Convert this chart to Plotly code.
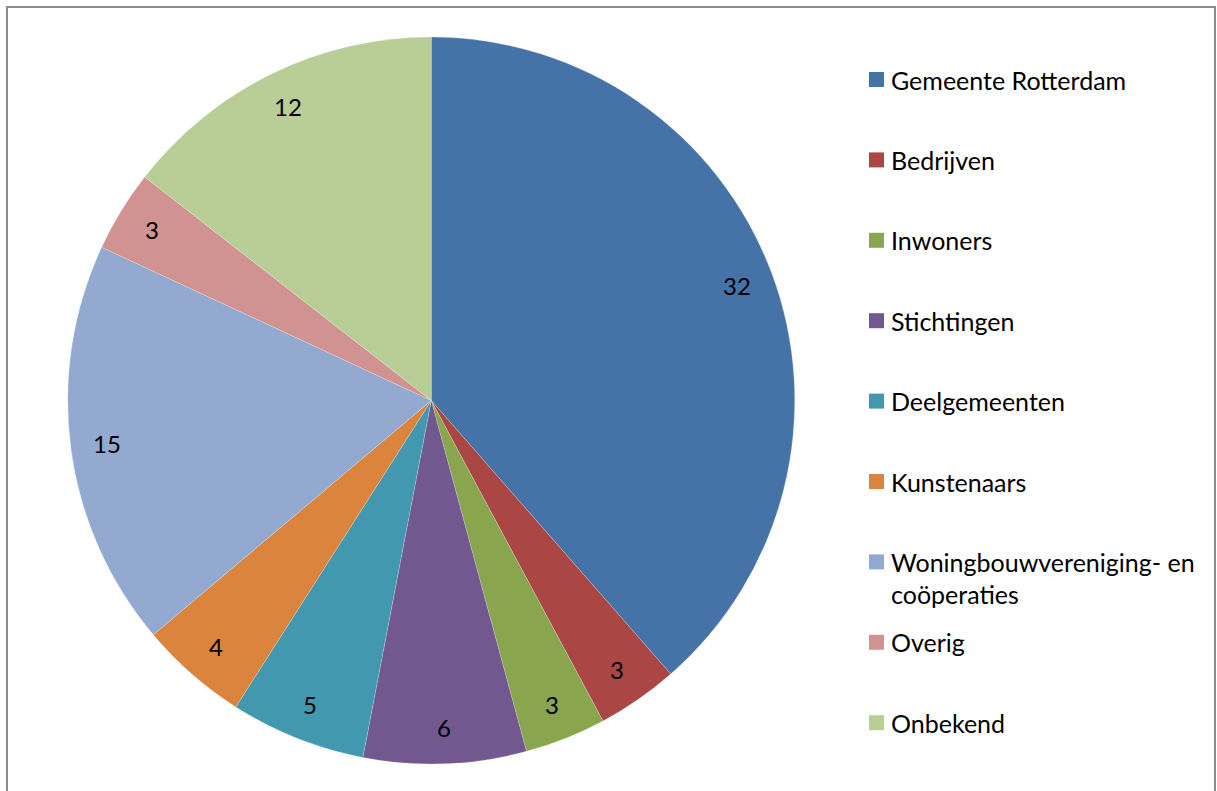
import math
import textwrap
import plotly.graph_objects as go

# ---- data ----
labels = [
    "Gemeente Rotterdam",
    "Bedrijven",
    "Inwoners",
    "Stichtingen",
    "Deelgemeenten",
    "Kunstenaars",
    "Woningbouwvereniging- en coöperaties",
    "Overig",
    "Onbekend",
]
values = [32, 3, 3, 6, 5, 4, 15, 3, 12]
colors = ["#4572A7", "#AA4643", "#89A54E", "#71588F", "#4198AF",
          "#DB843D", "#93A9CF", "#D19392", "#B9CD96"]

W, H = 1217, 791
FONT = "Lato"
FS_LEG = 25
FS_LAB = 24

# pie geometry (pixels)
cx, cy, R = 431.25, 400.5, 363.5

fig = go.Figure()
fig.add_trace(go.Pie(
    labels=labels,
    values=values,
    sort=False,
    direction="clockwise",
    rotation=0,
    marker=dict(colors=colors, line=dict(color="rgba(255,255,255,0.4)", width=0.5)),
    textinfo="none",
    hoverinfo="label+value",
    showlegend=False,
    domain=dict(x=[(cx - R) / W, (cx + R) / W],
                y=[(H - (cy + R)) / H, (H - (cy - R)) / H]),
))

annotations = []
shapes = []

# data labels at 0.9 R along each slice's mid-angle
total = sum(values)
cum = 0
for v in values:
    mid = (cum + v / 2) / total * 2 * math.pi
    cum += v
    px = cx + 0.9 * R * math.sin(mid)
    py = cy - 0.9 * R * math.cos(mid)
    annotations.append(dict(
        x=px / W, y=1 - py / H, xref="paper", yref="paper",
        text=str(v), showarrow=False, xanchor="center", yanchor="middle",
        font=dict(family=FONT, size=FS_LAB, color="black"),
    ))

# custom legend
leg_y0, leg_dy, line_dy = 79.5, 80.4, 32
for i, (lab, col) in enumerate(zip(labels, colors)):
    yc = leg_y0 + i * leg_dy
    shapes.append(dict(
        type="rect", xref="paper", yref="paper",
        x0=869 / W, x1=884 / W, y0=1 - (yc + 7.5) / H, y1=1 - (yc - 7.5) / H,
        fillcolor=col, line=dict(width=0),
    ))
    for j, ln in enumerate(textwrap.wrap(lab, 25)):
        annotations.append(dict(
            x=889 / W, y=1 - (yc + j * line_dy) / H, xref="paper", yref="paper",
            text=ln, showarrow=False, xanchor="left", yanchor="middle",
            font=dict(family=FONT, size=FS_LEG, color="black"),
        ))

# chart border
shapes.append(dict(
    type="rect", xref="paper", yref="paper",
    x0=7 / W, x1=1215 / W, y0=-0.05, y1=1 - 7 / H,
    line=dict(color="#8c8c8c", width=2), fillcolor="rgba(0,0,0,0)", layer="above",
))

fig.update_layout(
    width=W, height=H,
    margin=dict(l=0, r=0, t=0, b=0),
    paper_bgcolor="white",
    plot_bgcolor="white",
    annotations=annotations,
    shapes=shapes,
    font=dict(family=FONT),
)

fig.write_html(
    "out.html",
    config={"displayModeBar": False},
    post_script="document.body.style.margin='0';document.body.style.overflow='hidden';",
)
